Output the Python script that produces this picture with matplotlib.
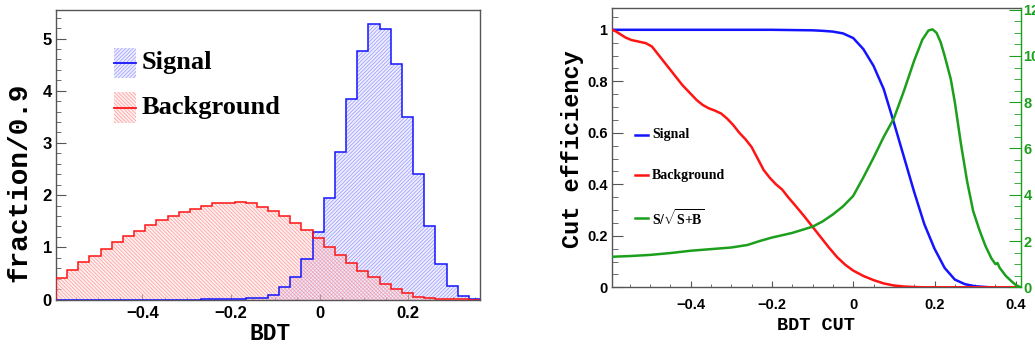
import numpy as np
import matplotlib
matplotlib.use("Agg")
import matplotlib.pyplot as plt
from matplotlib.patches import Rectangle
from matplotlib.lines import Line2D
from matplotlib.ticker import FixedLocator, MultipleLocator

# ---- BDT response histograms (38 bins) ----
bdt_lo, bdt_hi, n_bins = -0.595, 0.362, 38
signal_frac = [0, 0, 0, 0, 0, 0, 0, 0, 0, 0, 0, 0, 0, 0.003, 0.005, 0.008,
               0.012, 0.02, 0.035, 0.086, 0.23, 0.44, 0.77, 1.29, 1.94, 2.83,
               3.85, 4.77, 5.28, 5.18, 4.51, 3.50, 2.40, 1.41, 0.68, 0.26,
               0.07, 0.01]
background_frac = [0.41, 0.565, 0.71, 0.84, 0.97, 1.11, 1.22, 1.32, 1.43, 1.52,
                   1.60, 1.68, 1.73, 1.80, 1.84, 1.855, 1.86, 1.84, 1.78, 1.70,
                   1.60, 1.47, 1.33, 1.17, 1.01, 0.85, 0.69, 0.55, 0.425, 0.30,
                   0.195, 0.12, 0.054, 0.023, 0.008, 0.003, 0.001, 0.0]

# ---- cut efficiency scan ----
sig_cut = [-0.594, -0.5, -0.4, -0.3, -0.2, -0.15, -0.1, -0.075, -0.05, -0.025,
           0.0, 0.025, 0.05, 0.075, 0.1, 0.125, 0.15, 0.175, 0.2, 0.225, 0.25,
           0.275, 0.3, 0.337]
sig_eff = [1.0, 1.0, 1.0, 1.0, 1.0, 0.999, 0.998, 0.996, 0.993, 0.986,
           0.968, 0.925, 0.86, 0.77, 0.64, 0.505, 0.37, 0.245, 0.15, 0.075,
           0.03, 0.012, 0.004, 0.0]

bkg_cut = [-0.594, -0.585, -0.575, -0.56, -0.545, -0.53, -0.51, -0.495, -0.48,
           -0.465, -0.45, -0.435, -0.42, -0.4, -0.385, -0.37, -0.355, -0.34,
           -0.325, -0.31, -0.295, -0.28, -0.265, -0.25, -0.235, -0.22, -0.205,
           -0.19, -0.175, -0.16, -0.14, -0.12, -0.1, -0.08, -0.06, -0.04, -0.02,
           0.0, 0.025, 0.05, 0.075, 0.1, 0.125, 0.15, 0.175, 0.412]
bkg_eff = [1.0, 0.995, 0.985, 0.97, 0.96, 0.955, 0.948, 0.935, 0.905, 0.875,
           0.845, 0.815, 0.785, 0.752, 0.727, 0.708, 0.695, 0.686, 0.675, 0.655,
           0.63, 0.60, 0.575, 0.545, 0.50, 0.455, 0.425, 0.40, 0.38, 0.35,
           0.313, 0.275, 0.235, 0.195, 0.155, 0.118, 0.088, 0.065, 0.044, 0.028,
           0.015, 0.007, 0.003, 0.001, 0.0, 0.0]

sign_cut = [-0.594, -0.55, -0.5, -0.45, -0.4, -0.35, -0.3, -0.26, -0.23, -0.2,
            -0.15, -0.1, -0.075, -0.05, -0.025, 0.0, 0.025, 0.05, 0.075, 0.1,
            0.125, 0.15, 0.17, 0.185, 0.195, 0.205, 0.215, 0.225, 0.24, 0.25,
            0.265, 0.28, 0.295, 0.31, 0.325, 0.34, 0.35, 0.355, 0.36, 0.375,
            0.39, 0.4, 0.412]
significance = [1.32, 1.35, 1.40, 1.48, 1.58, 1.65, 1.72, 1.83, 2.0, 2.15,
                2.35, 2.62, 2.85, 3.15, 3.5, 3.95, 4.75, 5.6, 6.5, 7.3,
                8.5, 9.8, 10.7, 11.1, 11.15, 11.0, 10.6, 10.0, 9.0, 8.0,
                6.2, 4.6, 3.3, 2.5, 1.8, 1.25, 1.0, 1.05, 0.85, 0.5,
                0.25, 0.1, 0.0]

hist_xticks = [-0.4, -0.2, 0.0, 0.2]
hist_xticklabels = ["\u22120.4", "\u22120.2", "0", "0.2"]
hist_yticks = [0, 1, 2, 3, 4, 5]
hist_yticklabels = ["0", "1", "2", "3", "4", "5"]
eff_xticks = [-0.4, -0.2, 0.0, 0.2, 0.4]
eff_xticklabels = ["\u22120.4", "\u22120.2", "0", "0.2", "0.4"]
eff_yticks = [0, 0.2, 0.4, 0.6, 0.8, 1.0]
eff_yticklabels = ["0", "0.2", "0.4", "0.6", "0.8", "1"]
sgn_yticks = [0, 2, 4, 6, 8, 10, 12]
sgn_yticklabels = ["0", "2", "4", "6", "8", "10", "12"]

BLUE = "#1414ff"
RED = "#ff1414"
GREEN = "#1c9f1c"
FRAME = "#555555"
TICK_FONT = dict(family=["Liberation Sans", "DejaVu Sans"], weight="bold")
MONO = dict(family=["Liberation Mono", "DejaVu Sans Mono"], weight="bold")
SERIF = dict(family=["Liberation Serif", "DejaVu Serif"], weight="bold")

plt.rcParams["hatch.linewidth"] = 0.5
plt.rcParams["mathtext.fontset"] = "custom"
plt.rcParams["mathtext.rm"] = "Liberation Serif:bold"
plt.rcParams["mathtext.bf"] = "Liberation Serif:bold"

W, H = 1035, 345
fig = plt.figure(figsize=(W / 100, H / 100), dpi=100)


def px_axes(x0, x1, y0, y1):
    return fig.add_axes([x0 / W, 1 - y1 / H, (x1 - x0) / W, (y1 - y0) / H])


# ================= left: BDT output distributions =================
ax1 = px_axes(56, 480, 10, 299.5)
edges = np.linspace(bdt_lo, bdt_hi, n_bins + 1)

sig_face = dict(facecolor=(0.90, 0.90, 1.0, 0.7), edgecolor=(0.45, 0.45, 1.0, 0.7),
                hatch="/////////")
bkg_face = dict(facecolor=(1.0, 0.88, 0.88, 0.5), edgecolor=(1.0, 0.45, 0.45, 0.7),
                hatch="\\\\\\\\\\\\\\\\\\")

ax1.stairs(signal_frac, edges, fill=True, linewidth=0, zorder=1, **sig_face)
ax1.stairs(background_frac, edges, fill=True, linewidth=0, zorder=2, **bkg_face)
ax1.stairs(signal_frac, edges, baseline=0, color=BLUE, linewidth=1.1, zorder=3)
ax1.stairs(background_frac, edges, baseline=0, color=RED, linewidth=1.1, zorder=4)

ax1.set_xlim(bdt_lo, bdt_hi)
ax1.set_ylim(0, 5.546)
ax1.xaxis.set_major_locator(FixedLocator(hist_xticks))
ax1.set_xticklabels(hist_xticklabels, fontsize=12, **TICK_FONT)
ax1.yaxis.set_major_locator(FixedLocator(hist_yticks))
ax1.set_yticklabels(hist_yticklabels, fontsize=12, **TICK_FONT)
ax1.xaxis.set_minor_locator(MultipleLocator(0.05))
ax1.yaxis.set_minor_locator(MultipleLocator(0.2))
ax1.tick_params(which="both", direction="in", top=False, right=False, color=FRAME)
ax1.tick_params(axis="x", which="major", length=4, pad=5)
ax1.tick_params(axis="x", which="minor", length=2)
ax1.tick_params(axis="y", which="major", length=7, pad=3)
ax1.tick_params(axis="y", which="minor", length=3.5)
for sp in ax1.spines.values():
    sp.set_color(FRAME)
    sp.set_linewidth(1.0)

# legend box entries
for (y0, y1, ym, face, col, label) in [
        (0.765, 0.869, 0.817, sig_face, BLUE, "Signal"),
        (0.610, 0.717, 0.662, bkg_face, RED, "Background")]:
    ax1.add_patch(Rectangle((0.137, y0), 0.052, y1 - y0, transform=ax1.transAxes,
                            linewidth=0, zorder=5, **face))
    ax1.add_line(Line2D([0.137, 0.189], [ym, ym], transform=ax1.transAxes,
                        color=col, linewidth=1.3, zorder=6))
    ax1.text(0.203, ym, label, transform=ax1.transAxes, ha="left", va="center",
             fontsize=19, zorder=6, **SERIF)

fig.text(19 / W, 1 - 182 / H, "fraction/0.9", rotation=90, ha="center",
         va="center", fontsize=20, **MONO)
fig.text(270 / W, 1 - 334 / H, "BDT", ha="center", va="center", fontsize=16.5,
         **MONO)

# ================= right: cut efficiencies =================
ax2 = px_axes(611.7, 1020.7, 8.3, 287.3)
ax3 = ax2.twinx()

ax2.plot(sig_cut, sig_eff, color=BLUE, linewidth=1.8, zorder=3)
ax2.plot(bkg_cut, bkg_eff, color=RED, linewidth=1.8, zorder=3)
ax3.plot(sign_cut, significance, color=GREEN, linewidth=1.8, zorder=3)

ax2.set_xlim(-0.594, 0.412)
ax2.set_ylim(0, 1.0835)
ax3.set_ylim(0, 12.06)

ax2.xaxis.set_major_locator(FixedLocator(eff_xticks))
ax2.set_xticklabels(eff_xticklabels, fontsize=10.5, **TICK_FONT)
ax2.yaxis.set_major_locator(FixedLocator(eff_yticks))
ax2.set_yticklabels(eff_yticklabels, fontsize=10.5, **TICK_FONT)
ax2.xaxis.set_minor_locator(MultipleLocator(0.05))
ax2.yaxis.set_minor_locator(MultipleLocator(0.05))
ax2.tick_params(which="both", direction="in", top=False, right=False, color=FRAME)
ax2.tick_params(axis="x", which="major", length=4, pad=8)
ax2.tick_params(axis="x", which="minor", length=2)
ax2.tick_params(axis="y", which="major", length=8, pad=3)
ax2.tick_params(axis="y", which="minor", length=4)
for name, sp in ax2.spines.items():
    sp.set_color(FRAME)
    sp.set_linewidth(1.0)
ax2.spines["right"].set_visible(False)

ax3.yaxis.set_major_locator(FixedLocator(sgn_yticks))
ax3.set_yticklabels(sgn_yticklabels, fontsize=10.5, color=GREEN, **TICK_FONT)
ax3.yaxis.set_minor_locator(MultipleLocator(0.5))
ax3.tick_params(axis="y", which="both", direction="in", color=GREEN,
                labelcolor=GREEN)
ax3.tick_params(axis="y", which="major", length=9, pad=2)
ax3.tick_params(axis="y", which="minor", length=5)
for name in ("left", "top", "bottom"):
    ax3.spines[name].set_visible(False)
ax3.spines["right"].set_color(GREEN)
ax3.spines["right"].set_linewidth(1.0)

for ym, col, label in [(0.546, BLUE, "Signal"),
                       (0.4025, RED, "Background"),
                       (0.248, GREEN, r"S/$\sqrt{\mathrm{S{+}B}}$")]:
    ax2.add_line(Line2D([0.057, 0.089], [ym, ym], transform=ax2.transAxes,
                        color=col, linewidth=1.8))
    ax2.text(0.0985, ym, label, transform=ax2.transAxes, ha="left", va="center",
             fontsize=10, **SERIF)

fig.text(573 / W, 1 - 149 / H, "Cut efficiency", rotation=90, ha="center",
         va="center", fontsize=17, **MONO)
fig.text(816 / W, 1 - 325 / H, "BDT CUT", ha="center", va="center",
         fontsize=13.4, **MONO)

fig.savefig("out.png", dpi=100)
